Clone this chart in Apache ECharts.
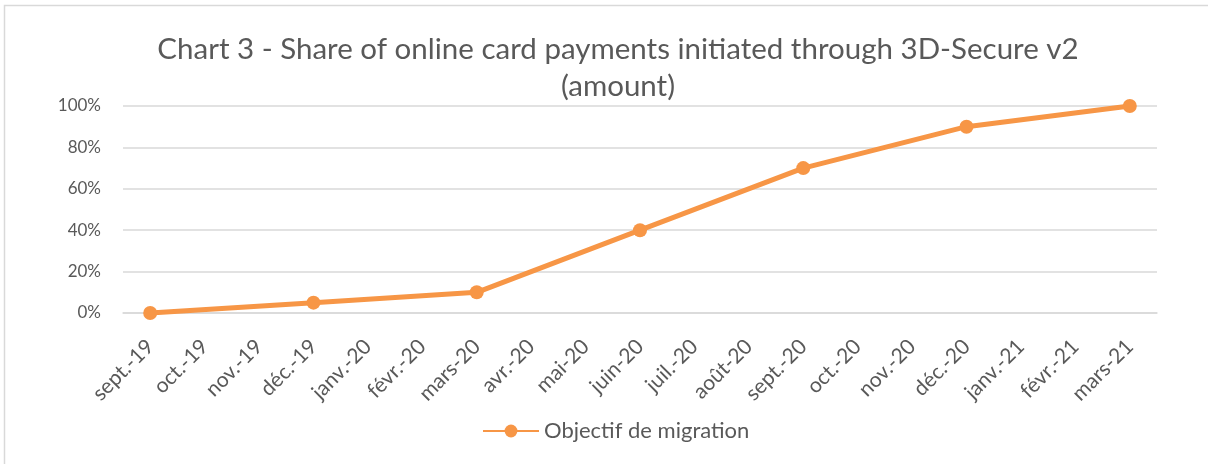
<!DOCTYPE html>
<html><head><meta charset="utf-8">
<script src="https://cdn.jsdelivr.net/npm/echarts@6/dist/echarts.min.js"></script>
<style>html,body{margin:0;padding:0;background:#fff}#c{width:1208px;height:464px}</style>
</head><body><div id="c"></div>
<script>
const categories = ['sept.-19','oct.-19','nov.-19','déc.-19','janv.-20','févr.-20','mars-20','avr.-20','mai-20','juin-20','juil.-20','août-20','sept.-20','oct.-20','nov.-20','déc.-20','janv.-21','févr.-21','mars-21'];
const migrationTarget = [0,null,null,5,null,null,10,null,null,40,null,null,70,null,null,90,null,null,100];
const seriesName = 'Objectif de migration';
const titleText = 'Chart 3 - Share of online card payments initiated through 3D-Secure v2\n(amount)';

const chart = echarts.init(document.getElementById('c'), null, {renderer:'canvas'});
const font = 'Lato, "Open Sans", sans-serif';
chart.setOption({
  animation:false,
  graphic:[{type:'rect',shape:{x:4.5,y:5.5,width:1210,height:470},style:{fill:null,stroke:'#d9d9d9',lineWidth:1.5},silent:true}],
  title:{text:titleText,left:613,top:26,textAlign:'center',textStyle:{fontFamily:font,fontSize:29.5,fontWeight:'normal',color:'#595959',lineHeight:37}},
  legend:{bottom:17,left:477,itemWidth:56,itemHeight:16,itemGap:4,textStyle:{fontFamily:font,fontSize:22,color:'#595959'},data:[seriesName]},
  grid:{left:123,right:51,top:106,bottom:151,containLabel:false},
  xAxis:{type:'category',data:categories,boundaryGap:true,
    axisLine:{show:true,lineStyle:{color:'#d9d9d9',width:1.5}},axisTick:{show:false},
    axisLabel:{rotate:45,interval:0,fontFamily:font,fontSize:21,color:'#595959',margin:30}},
  yAxis:{type:'value',min:0,max:100,interval:20,
    axisLine:{show:false},axisTick:{show:false},
    splitLine:{lineStyle:{color:'#d9d9d9',width:1.5}},
    axisLabel:{formatter:'{value}%',fontFamily:font,fontSize:17,color:'#595959',margin:22}},
  series:[{name:seriesName,type:'line',data:migrationTarget,connectNulls:true,
    symbol:'circle',symbolSize:14,lineStyle:{color:'#F79646',width:5},itemStyle:{color:'#F79646'}}]
});
</script></body></html>
